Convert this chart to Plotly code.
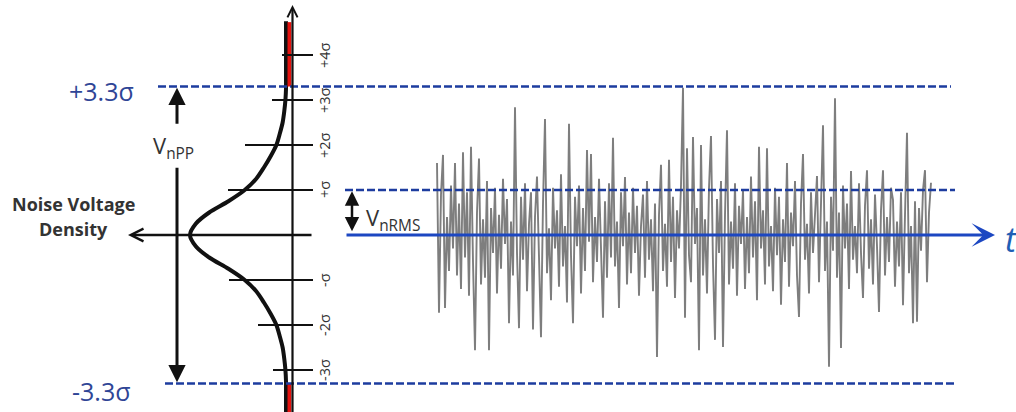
import plotly.graph_objects as go

# ---------------------------------------------------------------------------
# Data
# ---------------------------------------------------------------------------
# Gaussian-like noise voltage density profile (1 at the mean), every 0.25 sigma
profile_sigma = [0.0, 0.25, 0.5, 0.75, 1.0, 1.25, 1.5, 1.75, 2.0, 2.25, 2.5,
                 2.75, 3.0, 3.25, 3.5, 3.75, 4.0, 4.25, 4.5, 4.75]
profile_density = [1.00, 0.94, 0.80, 0.60, 0.43, 0.31, 0.23, 0.16, 0.10, 0.065,
                   0.035, 0.018, 0.006, 0.0, 0.0, 0.0, 0.0, 0.0, 0.0, 0.0]

# Noise voltage samples in units of sigma
noise_samples = [
    1.60, -1.73, 0.90, 1.78, -1.62, 0.40, -0.80, 1.10, -0.30, 1.60,
    -0.90, 0.70, -1.20, 1.84, -0.50, 0.95, -1.35, 1.96, -0.60, -2.56,
    0.50, 1.70, -1.10, 0.35, -0.95, 1.20, -2.56, 0.60, -0.40, 1.05,
    -1.30, 0.45, -0.75, 1.25, -0.20, 0.80, -1.96, 0.30, -0.90, 2.84,
    -0.40, -2.07, 0.85, -0.55, 1.15, -1.25, 0.25, 0.95, -2.10, 0.40,
    1.30, -0.65, -2.27, 0.70, 2.58, -0.85, 0.15, -1.45, 1.05, -0.30,
    0.55, -1.15, 1.35, -0.70, 0.20, -1.50, 2.47, -0.45, -1.96, 0.85,
    -0.25, 1.10, -1.30, 0.60, -0.80, 1.89, -0.15, 1.80, -1.05, 0.40,
    -0.60, 1.25, -0.35, -1.84, 0.75, -0.95, 1.15, -0.50, 2.16, -0.70,
    0.30, -1.62, 0.95, -0.25, 1.29, -1.10, 0.50, -0.85, 1.05, -0.40,
    0.65, -1.35, 0.20, 0.90, -0.95, 1.20, -0.55, 0.35, -1.25, 0.70,
    -2.71, 0.45, 1.56, -0.80, 0.25, -1.15, 1.67, -0.60, 0.85, -1.40,
    0.55, -0.30, 1.10, 3.27, -1.84, 1.93, -0.45, -1.05, 2.18, -0.20,
    0.60, -2.56, 2.00, -0.90, 0.35, -1.30, 1.05, 2.20, -0.65, -2.33,
    0.80, -0.40, 1.20, -2.49, 0.45, 2.33, -1.10, 0.30, -0.75, 1.15,
    -1.35, 0.65, -0.20, 1.00, -1.20, 0.40, -0.85, 1.30, -0.50, 0.75,
    -1.45, 1.96, -0.30, 0.55, -1.10, 1.93, -0.70, 0.20, -1.25, 1.05,
    -0.45, 0.85, -1.55, 0.35, -0.60, 1.60, -1.15, 0.50, -0.25, 1.20,
    -0.90, -1.82, 0.70, 1.80, -0.55, 0.25, -1.30, 0.95, -0.40, 0.60,
    1.31, -1.05, 0.45, 2.44, -0.80, 0.30, -2.93, 0.85, -0.35, 3.04,
    -0.95, 0.50, -2.51, 1.10, -0.30, 0.70, -1.20, 1.42, -0.55, 0.20,
    -0.85, 1.15, -0.40, -1.40, 0.65, 1.44, -0.75, 0.35, -1.10, 0.90,
    -0.25, -1.71, 0.55, 1.44, -0.90, 0.40, -0.60, 1.05, 0.78, -1.15,
    0.30, -0.70, 0.95, -1.56, 0.45, 2.27, -0.85, 0.20, -1.96, 0.75,
    -1.93, 0.60, -0.35, 1.00, 1.44, -1.05, 0.50, 1.16,
]

# Sigma scale ticks
tick_levels = [4, 3, 2, 1, -1, -2, -3, -4]
tick_labels = ["+4σ", "+3σ", "+2σ", "+σ", "-σ", "-2σ", "-3σ", "-4σ"]
peak_level = 3.3
peak_labels = ["+3.3σ", "-3.3σ"]

# ---------------------------------------------------------------------------
# Layout constants (horizontal positions in canvas units, vertical in sigma)
# ---------------------------------------------------------------------------
W, H = 1016, 412
PX_PER_SIGMA = 45.0
ZERO_PX = 235.0
Y_RANGE = [-(H - ZERO_PX) / PX_PER_SIGMA, ZERO_PX / PX_PER_SIGMA]

tick_left_ends = [282, 272, 245, 228, 229, 258, 273, 280]
TICK_RIGHT = 313
AXIS_X = 292.5
TICK_LABEL_X = 324

BLUE_DASH = "#1d3c9f"
BLUE_SOLID = "#1c47c2"
BLUE_TEXT = "#2f4596"
INK = "#111111"
TEXT_GREY = "#333333"
FONT = "Open Sans, Noto Sans, DejaVu Sans, sans-serif"

fig = go.Figure()

# Density curve, mirrored about the mean, on its own reversed axis
curve_y = [-s for s in reversed(profile_sigma)] + profile_sigma[1:]
curve_x = list(reversed(profile_density)) + profile_density[1:]
fig.add_trace(go.Scatter(
    x=curve_x, y=curve_y, xaxis="x3", yaxis="y", mode="lines",
    line=dict(color=INK, width=4, shape="spline", smoothing=0.8),
    hoverinfo="skip",
))

# Noise time trace
fig.add_trace(go.Scatter(
    x=list(range(len(noise_samples))), y=noise_samples, xaxis="x2", yaxis="y",
    mode="lines", line=dict(color="#7e7e7e", width=1.9),
    hoverinfo="skip",
))

shapes = []
# Red tails beyond +/-3.3 sigma between the curve and the axis
for y0, y1 in [(peak_level, 4.73), (Y_RANGE[0] - 0.1, -peak_level)]:
    shapes.append(dict(type="rect", xref="x", yref="y", x0=287.5, x1=291.3,
                       y0=y0, y1=y1, fillcolor="#e3120f", line_width=0,
                       layer="above"))

# Sigma tick lines
for lvl, x_left in zip(tick_levels, tick_left_ends):
    shapes.append(dict(type="line", xref="x", yref="y", x0=x_left, x1=TICK_RIGHT,
                       y0=lvl, y1=lvl, line=dict(color=INK, width=2)))

# Peak-to-peak and RMS reference lines
dash = "8px,3px"
shapes += [
    dict(type="line", xref="x", yref="y", x0=158, x1=951, y0=peak_level,
         y1=peak_level, line=dict(color=BLUE_DASH, width=2.5, dash=dash)),
    dict(type="line", xref="x", yref="y", x0=165, x1=955, y0=-peak_level,
         y1=-peak_level, line=dict(color=BLUE_DASH, width=2.5, dash=dash)),
    dict(type="line", xref="x", yref="y", x0=345, x1=955, y0=1, y1=1,
         line=dict(color=BLUE_DASH, width=2.5, dash=dash)),
]

annotations = []


def arrow(x_tip, y_tip, x_tail, y_tail, color=INK, width=2.5, head=2, size=1.0,
          both=False):
    a = dict(x=x_tip, y=y_tip, ax=x_tail, ay=y_tail, xref="x", yref="y",
             axref="x", ayref="y", text="", showarrow=True, arrowcolor=color,
             arrowwidth=width, arrowhead=head, arrowsize=size)
    if both:
        a.update(arrowside="end+start", startarrowhead=head, startarrowsize=size)
    return a


# Vertical voltage axis and the density axis
annotations.append(arrow(AXIS_X, (ZERO_PX - 5) / PX_PER_SIGMA, AXIS_X,
                         Y_RANGE[0] - 0.05, width=2.2, head=5, size=0.9))
annotations.append(arrow(128, 0, TICK_RIGHT, 0, width=2.5, head=5, size=1.0))
# Time axis
annotations.append(arrow(995, 0, 345, 0, color=BLUE_SOLID, width=3, head=3,
                         size=1.3))
# V_nPP arrows (split around the label)
annotations.append(arrow(177, 3.27, 177, 2.44, width=3, head=2, size=1.15))
annotations.append(arrow(177, -3.27, 177, 1.53, width=3, head=2, size=1.15))
# V_nRMS double arrow
annotations.append(arrow(352, 0.97, 352, 0.05, width=2.5, head=2, size=1.15,
                         both=True))

# Sigma tick labels (rotated)
for lvl, lab in zip(tick_levels, tick_labels):
    annotations.append(dict(x=TICK_LABEL_X, y=lvl, xref="x", yref="y", text=lab,
                            showarrow=False, textangle=-90,
                            font=dict(family=FONT, size=14.5, color=TEXT_GREY)))

# Peak labels
for lab, yv in zip(peak_labels, [3.2, -3.47]):
    annotations.append(dict(x=101, y=yv, xref="x", yref="y", text=lab,
                            showarrow=False,
                            font=dict(family=FONT, size=25, color=BLUE_TEXT)))

# Axis titles and quantity labels
annotations += [
    dict(x=73, y=(ZERO_PX - 204) / PX_PER_SIGMA, xref="x", yref="y",
         text="<b>Noise Voltage</b>", showarrow=False,
         font=dict(family=FONT, size=18, color=TEXT_GREY)),
    dict(x=73, y=(ZERO_PX - 229) / PX_PER_SIGMA, xref="x", yref="y",
         text="<b>Density</b>", showarrow=False,
         font=dict(family=FONT, size=18, color=TEXT_GREY)),
    dict(x=173, y=1.95, xref="x", yref="y", text="V<sub>nPP</sub>",
         showarrow=False, font=dict(family=FONT, size=22, color=TEXT_GREY)),
    dict(x=393, y=0.36, xref="x", yref="y", text="V<sub>nRMS</sub>",
         showarrow=False, font=dict(family=FONT, size=22, color=TEXT_GREY)),
    dict(x=1003, y=-0.08, xref="x", yref="y", text="<i>t</i>", xanchor="left",
         showarrow=False, font=dict(family=FONT, size=34, color="#1f5fb5")),
]

hidden = dict(visible=False, fixedrange=True, showgrid=False, zeroline=False)

# Density axis: zero density sits at canvas x = 286, full density at x = 190
dens_left, dens_right = 137, 295
px_per_unit = 96.0
dens_max = (286 - dens_left) / px_per_unit
dens_min = -(dens_right - 286) / px_per_unit

fig.update_layout(
    width=W, height=H,
    margin=dict(l=0, r=0, t=0, b=0, pad=0),
    paper_bgcolor="white", plot_bgcolor="white",
    showlegend=False,
    xaxis=dict(range=[0, W], domain=[0, 1], **hidden),
    xaxis2=dict(range=[-0.5, len(noise_samples) - 0.5], anchor="y",
                domain=[436 / W, 932 / W], **hidden),
    xaxis3=dict(range=[dens_max, dens_min], anchor="y",
                domain=[dens_left / W, dens_right / W], **hidden),
    yaxis=dict(range=Y_RANGE, domain=[0, 1], **hidden),
    shapes=shapes,
    annotations=annotations,
)

fig.write_html("out.html", config={"displayModeBar": False})
